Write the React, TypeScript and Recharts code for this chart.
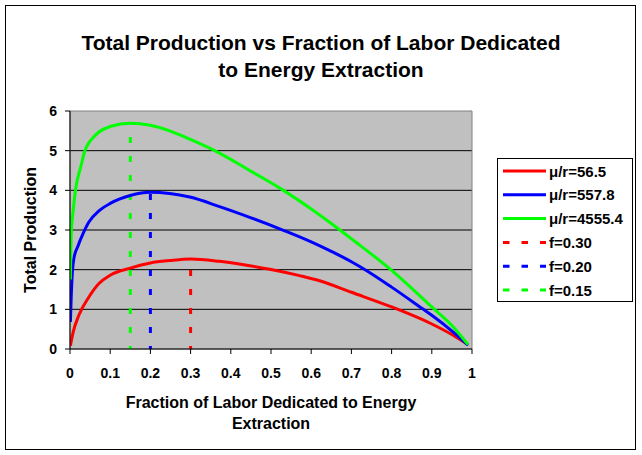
import {
  LineChart,
  Line,
  XAxis,
  YAxis,
  CartesianGrid,
  Legend,
  ReferenceArea,
} from "recharts";

// values
const fracRed = [0.001, 0.008, 0.022, 0.047, 0.072, 0.1, 0.15, 0.2, 0.248, 0.3, 0.372, 0.447, 0.497, 0.571, 0.621, 0.7, 0.8, 0.9, 0.954, 0.99];
const prodRed = [0.08, 0.43, 0.85, 1.31, 1.65, 1.86, 2.04, 2.17, 2.23, 2.27, 2.21, 2.1, 2.01, 1.85, 1.72, 1.43, 1.06, 0.63, 0.34, 0.11];

const fracBlue = [0.001, 0.003, 0.006, 0.01, 0.02, 0.03, 0.047, 0.072, 0.1, 0.15, 0.2, 0.248, 0.298, 0.372, 0.447, 0.534, 0.6, 0.65, 0.7, 0.729, 0.8, 0.879, 0.9, 0.954, 0.99];
const prodBlue = [0.68, 1.3, 1.95, 2.3, 2.6, 2.85, 3.2, 3.48, 3.67, 3.87, 3.95, 3.92, 3.83, 3.59, 3.32, 2.98, 2.7, 2.46, 2.2, 2.03, 1.56, 1.0, 0.85, 0.42, 0.1];

const fracGreen = [0.001, 0.003, 0.008, 0.014, 0.027, 0.037, 0.047, 0.056, 0.072, 0.1, 0.15, 0.2, 0.248, 0.298, 0.36, 0.447, 0.526, 0.6, 0.669, 0.7, 0.798, 0.9, 0.954, 0.99];
const prodGreen = [1.75, 2.9, 3.5, 4.03, 4.6, 5.0, 5.2, 5.31, 5.47, 5.61, 5.69, 5.64, 5.5, 5.29, 5.0, 4.5, 4.03, 3.53, 3.02, 2.78, 2.0, 1.06, 0.55, 0.11];

const curveNames = ["μ/r=56.5", "μ/r=557.8", "μ/r=4555.4"];
const peakNames = ["f=0.30", "f=0.20", "f=0.15"];
const peakFrac = [0.3, 0.2, 0.15];
const peakProd = [2.27, 3.95, 5.69];
const colors = ["#FF0000", "#0000FF", "#00FF00"];

const xTicks = [0, 0.1, 0.2, 0.3, 0.4, 0.5, 0.6, 0.7, 0.8, 0.9, 1];
const yTicks = [0, 1, 2, 3, 4, 5, 6];

const FONT = '"Liberation Sans", Arial, sans-serif';

const zip = (fs: number[], ps: number[]) => fs.map((f, i) => ({ f, p: ps[i] }));

const curves = [
  zip(fracRed, prodRed),
  zip(fracBlue, prodBlue),
  zip(fracGreen, prodGreen),
];

const peaks = peakFrac.map((f, i) => [
  { f, p: 0 },
  { f, p: peakProd[i] },
]);

const legendItems = [
  ...curveNames.map((name, i) => ({ name, color: colors[i], dashed: false })),
  ...peakNames.map((name, i) => ({ name, color: colors[i], dashed: true })),
];

function LegendBox() {
  return (
    <svg width={136} height={144} style={{ display: "block" }}>
      <rect x={0.5} y={0.5} width={135} height={143} fill="#fff" stroke="#000" />
      {legendItems.map((item, i) => {
        const cy = 13 + i * 23.8;
        return (
          <g key={item.name}>
            <line
              x1={6}
              x2={49}
              y1={cy}
              y2={cy}
              stroke={item.color}
              strokeWidth={3}
              strokeDasharray={item.dashed ? "6.5 12" : undefined}
            />
            <text
              x={52}
              y={cy + 5.5}
              fontSize={15}
              fontWeight="bold"
              fontFamily={FONT}
              fill="#000"
            >
              {item.name}
            </text>
          </g>
        );
      })}
    </svg>
  );
}

const tickStyle = { fill: "#000", fontSize: 14, fontWeight: "bold", fontFamily: FONT };

export default function App() {
  return (
    <div
      style={{
        position: "absolute",
        left: 0,
        top: 0,
        width: 642,
        height: 455,
        background: "#fff",
        fontFamily: FONT,
      }}
    >
      <div
        style={{
          position: "absolute",
          left: 5,
          top: 5,
          width: 631,
          height: 445,
          border: "1px solid #000",
          boxSizing: "border-box",
        }}
      />
      <div
        style={{
          position: "absolute",
          left: 0,
          top: 29,
          width: 642,
          textAlign: "center",
          fontWeight: "bold",
          fontSize: 21,
          lineHeight: "27px",
        }}
      >
        Total Production vs Fraction of Labor Dedicated
        <br />
        to Energy Extraction
      </div>

      <div style={{ position: "absolute", left: 0, top: 0 }}>
        <LineChart
          width={642}
          height={455}
          margin={{ top: 111, right: 170, bottom: 76, left: 30 }}
        >
          <CartesianGrid
            fill="#C0C0C0"
            vertical={false}
            stroke="#000"
            horizontalValues={[1, 2, 3, 4, 5]}
          />
          <ReferenceArea x1={0} x2={1} y1={0} y2={6} fill="none" stroke="#808080" />
          <XAxis
            dataKey="f"
            type="number"
            domain={[0, 1]}
            ticks={xTicks}
            tickSize={5}
            tickMargin={14}
            tick={tickStyle}
            axisLine={{ stroke: "#000" }}
            tickLine={{ stroke: "#000" }}
            allowDataOverflow
            label={{
              content: (props: any) => {
                const vb = props.viewBox || { x: 70, y: 349, width: 402 };
                const cx = vb.x + vb.width / 2;
                return (
                  <text
                    textAnchor="middle"
                    fontSize={16}
                    fontWeight="bold"
                    fontFamily={FONT}
                    fill="#000"
                  >
                    <tspan x={cx} y={vb.y + 59}>
                      Fraction of Labor Dedicated to Energy
                    </tspan>
                    <tspan x={cx} y={vb.y + 80}>
                      Extraction
                    </tspan>
                  </text>
                );
              },
            }}
          />
          <YAxis
            type="number"
            domain={[0, 6]}
            ticks={yTicks}
            width={40}
            tickSize={5}
            tickMargin={8}
            tick={tickStyle}
            axisLine={{ stroke: "#000" }}
            tickLine={{ stroke: "#000" }}
            label={{
              content: (props: any) => {
                const vb = props.viewBox || { x: 30, y: 111, height: 238 };
                const cx = vb.x;
                const cy = vb.y + vb.height / 2;
                return (
                  <text
                    x={cx}
                    y={cy}
                    transform={`rotate(-90 ${cx} ${cy})`}
                    textAnchor="middle"
                    dominantBaseline="central"
                    fontSize={16}
                    fontWeight="bold"
                    fontFamily={FONT}
                    fill="#000"
                  >
                    Total Production
                  </text>
                );
              },
            }}
          />
          {peaks.map((d, i) => (
            <Line
              key={peakNames[i]}
              name={peakNames[i]}
              data={d}
              dataKey="p"
              type="linear"
              stroke={colors[i]}
              strokeWidth={3}
              strokeDasharray="6 13"
              strokeDashoffset={3}
              dot={false}
              activeDot={false}
              isAnimationActive={false}
            />
          ))}
          {curves.map((d, i) => (
            <Line
              key={curveNames[i]}
              name={curveNames[i]}
              data={d}
              dataKey="p"
              type="monotone"
              stroke={colors[i]}
              strokeWidth={3}
              dot={false}
              activeDot={false}
              isAnimationActive={false}
            />
          ))}
          <Legend
            layout="horizontal"
            verticalAlign="middle"
            align="center"
            wrapperStyle={{ left: 497, top: 158, width: 136, height: 144 }}
            content={() => <LegendBox />}
          />
        </LineChart>
      </div>
    </div>
  );
}
